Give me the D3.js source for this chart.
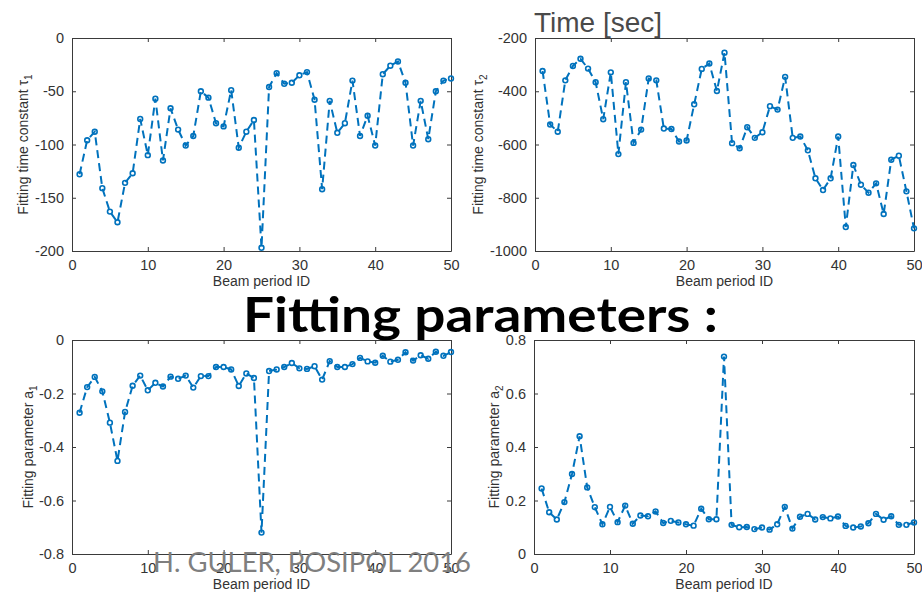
<!DOCTYPE html>
<html>
<head>
<meta charset="utf-8">
<script src="https://cdn.jsdelivr.net/npm/d3@7"></script>
<style>
  html, body { margin: 0; padding: 0; background: #fff; }
  svg { display: block; }
</style>
</head>
<body>
<svg id="chart" width="922" height="592"></svg>
<script>
// Beam period IDs 1..50
const beamIds = [1,2,3,4,5,6,7,8,9,10,11,12,13,14,15,16,17,18,19,20,
  21,22,23,24,25,26,27,28,29,30,31,32,33,34,35,36,37,38,39,40,
  41,42,43,44,45,46,47,48,49,50];

// Fitted time constant tau1 [sec]
const tau1 = [-128,-96,-88,-141,-163,-173,-136,-127,-76,-110,
  -57,-115,-66,-86,-101,-92,-50,-56,-80,-83,
  -49,-103,-88,-77,-197,-46,-33,-43,-42,-35,
  -32,-58,-142,-59,-89,-80,-40,-92,-73,-101,
  -34,-26,-22,-42,-101,-59,-95,-50,-40,-38];

// Fitted time constant tau2 [sec]
const tau2 = [-324,-525,-552,-359,-305,-278,-315,-366,-505,-329,
  -636,-366,-594,-544,-352,-359,-540,-542,-589,-585,
  -449,-316,-296,-399,-255,-595,-614,-535,-575,-554,
  -456,-469,-346,-575,-570,-622,-727,-771,-727,-570,
  -910,-677,-751,-781,-746,-861,-657,-642,-776,-915];

// Fitted amplitude a1
const a1 = [-0.272,-0.176,-0.138,-0.192,-0.309,-0.452,-0.269,-0.171,-0.133,-0.188,
  -0.160,-0.174,-0.137,-0.145,-0.133,-0.178,-0.135,-0.135,-0.101,-0.101,
  -0.110,-0.172,-0.125,-0.142,-0.720,-0.116,-0.110,-0.101,-0.086,-0.106,
  -0.108,-0.098,-0.148,-0.079,-0.101,-0.101,-0.090,-0.067,-0.080,-0.085,
  -0.059,-0.081,-0.074,-0.046,-0.077,-0.057,-0.070,-0.044,-0.059,-0.045];

// Fitted amplitude a2
const a2 = [0.245,0.156,0.129,0.194,0.299,0.440,0.249,0.175,0.111,0.176,
  0.119,0.181,0.113,0.144,0.141,0.159,0.116,0.124,0.118,0.111,
  0.106,0.169,0.130,0.130,0.738,0.109,0.100,0.101,0.093,0.099,
  0.091,0.111,0.176,0.095,0.139,0.150,0.129,0.138,0.133,0.140,
  0.105,0.099,0.103,0.115,0.150,0.128,0.141,0.109,0.109,0.118];

// Tick values
const xTicks = [0,10,20,30,40,50];
const tau1Ticks = [-200,-150,-100,-50,0];
const tau2Ticks = [-1000,-800,-600,-400,-200];
const a1Ticks = [-0.8,-0.6,-0.4,-0.2,0];
const a2Ticks = [0,0.2,0.4,0.6,0.8];

const svg = d3.select("#chart");
const lineColor = "#0072BD";
const axisColor = "#3a3a3a";
const tickFont = "Liberation Sans, Arial, Helvetica, sans-serif";

// plain ASCII hyphen for negative tick labels
const fmtInt = d => String(d);
const fmtDec = d => d === 0 ? "0" : d.toFixed(1);

function drawPanel(opt) {
  const { left, top, width, height, values, yDomain, yTicks, yFormat,
          labelMain, labelSub, labelOffset } = opt;
  const g = svg.append("g").attr("transform", `translate(${left},${top})`);

  const x = d3.scaleLinear().domain([0, 50]).range([0, width]);
  const y = d3.scaleLinear().domain(yDomain).range([height, 0]);

  // Box with inward ticks on all four sides
  const tickLen = 4;
  const axB = d3.axisBottom(x).tickValues(xTicks).tickSizeInner(-tickLen).tickSizeOuter(0).tickPadding(9);
  const axT = d3.axisTop(x).tickValues(xTicks).tickSizeInner(-tickLen).tickSizeOuter(0).tickFormat("");
  const axL = d3.axisLeft(y).tickValues(yTicks).tickSizeInner(-tickLen).tickSizeOuter(0).tickPadding(8).tickFormat(yFormat);
  const axR = d3.axisRight(y).tickValues(yTicks).tickSizeInner(-tickLen).tickSizeOuter(0).tickFormat("");

  const gb = g.append("g").attr("transform", `translate(0,${height})`).call(axB);
  const gt = g.append("g").call(axT);
  const gl = g.append("g").call(axL);
  const gr = g.append("g").attr("transform", `translate(${width},0)`).call(axR);

  [gb, gt, gl, gr].forEach(a => {
    a.select(".domain").attr("stroke", axisColor).attr("stroke-width", 1);
    a.selectAll(".tick line").attr("stroke", axisColor).attr("stroke-width", 1);
    a.selectAll(".tick text")
      .attr("fill", "#333")
      .attr("font-family", tickFont)
      .attr("font-size", 14.5);
  });

  // x label
  g.append("text")
    .attr("x", width / 2)
    .attr("y", height + 35)
    .attr("text-anchor", "middle")
    .attr("font-family", tickFont)
    .attr("font-size", 14)
    .attr("fill", "#333")
    .text("Beam period ID");

  // y label with subscript
  const yl = g.append("text")
    .attr("transform", `translate(${-labelOffset},${height / 2}) rotate(-90)`)
    .attr("text-anchor", "middle")
    .attr("font-family", tickFont)
    .attr("font-size", 14)
    .attr("fill", "#333");
  yl.append("tspan").text(labelMain);
  yl.append("tspan").attr("font-size", 10).attr("dy", 4).text(labelSub);

  // dashed series line
  const pts = beamIds.map((id, i) => [id, values[i]]);
  const line = d3.line().x(d => x(d[0])).y(d => y(d[1]));
  g.append("path")
    .datum(pts)
    .attr("d", line)
    .attr("fill", "none")
    .attr("stroke", lineColor)
    .attr("stroke-width", 2)
    .attr("stroke-dasharray", "8,5");

  // open circle markers
  g.append("g").selectAll("circle")
    .data(pts)
    .join("circle")
    .attr("cx", d => x(d[0]))
    .attr("cy", d => y(d[1]))
    .attr("r", 2.4)
    .attr("fill", "none")
    .attr("stroke", lineColor)
    .attr("stroke-width", 1.6);
}

drawPanel({ left: 72, top: 38, width: 379, height: 213, values: tau1,
  yDomain: [-200, 0], yTicks: tau1Ticks, yFormat: fmtInt,
  labelMain: "Fitting time constant \u03C4", labelSub: "1", labelOffset: 44 });

drawPanel({ left: 535, top: 38, width: 379, height: 213, values: tau2,
  yDomain: [-1000, -200], yTicks: tau2Ticks, yFormat: fmtInt,
  labelMain: "Fitting time constant \u03C4", labelSub: "2", labelOffset: 52 });

drawPanel({ left: 72, top: 340, width: 379, height: 214, values: a1,
  yDomain: [-0.8, 0], yTicks: a1Ticks, yFormat: fmtDec,
  labelMain: "Fitting parameter a", labelSub: "1", labelOffset: 39 });

drawPanel({ left: 534, top: 340, width: 380, height: 214, values: a2,
  yDomain: [0, 0.8], yTicks: a2Ticks, yFormat: fmtDec,
  labelMain: "Fitting parameter a", labelSub: "2", labelOffset: 35 });

// Heading above the right-hand panel
svg.append("text")
  .attr("x", 534)
  .attr("y", 32)
  .attr("font-family", "Liberation Sans, Arial, sans-serif")
  .attr("font-size", 28)
  .attr("fill", "#4a4a4a")
  .text("Time [sec]");

// Slide title
svg.append("text")
  .attr("x", 243)
  .attr("y", 332)
  .attr("font-family", "Lato, 'Open Sans', sans-serif")
  .attr("font-weight", "bold")
  .attr("font-size", 48)
  .attr("fill", "#000")
  .attr("textLength", 475)
  .attr("lengthAdjust", "spacingAndGlyphs")
  .text("Fitting parameters :");

// Footer credit, printed over the lower-left panel
svg.append("text")
  .attr("x", 153)
  .attr("y", 572)
  .attr("font-family", "Lato, 'Open Sans', sans-serif")
  .attr("font-size", 27)
  .attr("fill", "#7f7f7f")
  .attr("textLength", 318)
  .attr("lengthAdjust", "spacingAndGlyphs")
  .text("H. GULER, POSIPOL 2016");
</script>
</body>
</html>
